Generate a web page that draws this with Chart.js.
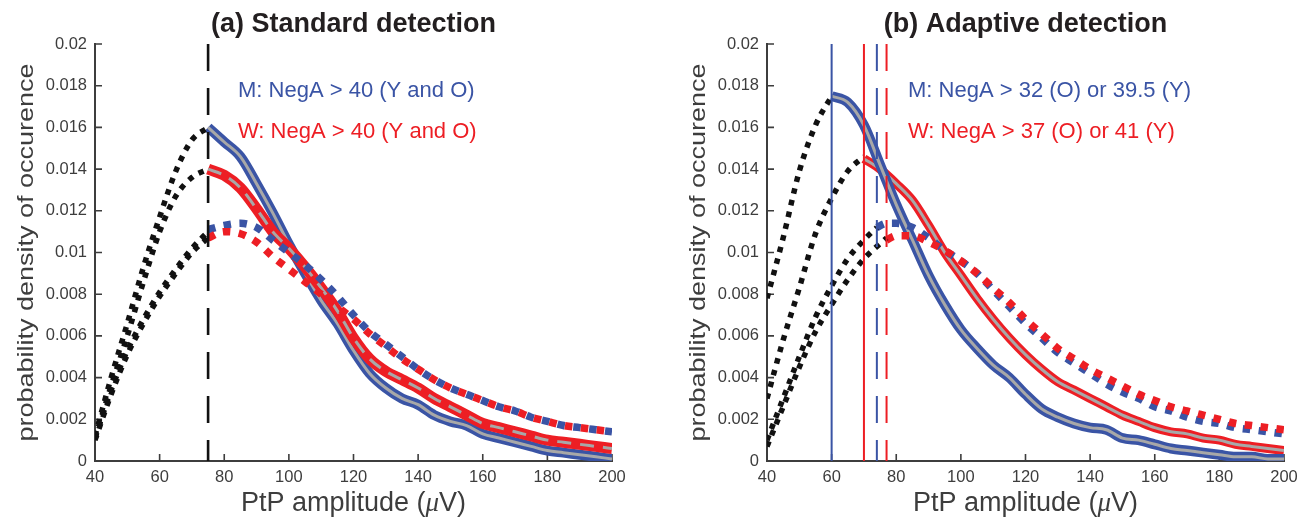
<!DOCTYPE html>
<html>
<head>
<meta charset="utf-8">
<script src="https://cdn.jsdelivr.net/npm/chart.js@4.4.1/dist/chart.umd.min.js"></script>
<style>
  html, body { margin: 0; padding: 0; background: #fff; }
  #wrap { display: flex; width: 1306px; height: 518px; }
  canvas { display: block; }
</style>
</head>
<body>
<div id="wrap">
  <canvas id="chartA" width="653" height="518"></canvas>
  <canvas id="chartB" width="653" height="518"></canvas>
</div>
<script>
// ---- panel (a) standard detection, threshold at 75 uV ----
const aLeadX = [40, 45, 50, 55, 60, 65, 70, 75];
const aMSolidLead = [0.0012, 0.0040, 0.0066, 0.0093, 0.0117, 0.0139, 0.0154, 0.0160];
const aWSolidLead = [0.0011, 0.0036, 0.0060, 0.0086, 0.0110, 0.0127, 0.0136, 0.0140];
const aMDotLead = [0.0011, 0.0034, 0.0053, 0.0068, 0.0081, 0.0092, 0.0102, 0.0110];
const aWDotLead = [0.0010, 0.0032, 0.0051, 0.0066, 0.0079, 0.0090, 0.0100, 0.0107];

const aTailX = [75, 80, 85, 90, 95, 100, 105, 110, 115, 120, 125, 130, 135, 140, 145, 150, 155, 160, 165, 170, 175, 180, 185, 190, 195, 200];
const aMSolid = [0.0160, 0.0153, 0.0146, 0.0133, 0.0119, 0.0104, 0.0090, 0.0077, 0.0066, 0.0053, 0.0042, 0.0035, 0.0030, 0.0027, 0.0022, 0.0019, 0.0017, 0.0013, 0.0011, 0.0009, 0.0007, 0.0005, 0.0004, 0.0003, 0.0002, 0.0001];
const aWSolid = [0.0140, 0.0137, 0.0131, 0.0121, 0.0110, 0.0102, 0.0093, 0.0083, 0.0072, 0.0059, 0.0049, 0.0043, 0.0039, 0.0035, 0.0030, 0.0026, 0.0022, 0.0018, 0.0016, 0.0014, 0.0012, 0.0010, 0.0009, 0.0008, 0.0007, 0.0006];
const aMDot = [0.0111, 0.0113, 0.0114, 0.0112, 0.0106, 0.0100, 0.0094, 0.0087, 0.0079, 0.0070, 0.0062, 0.0056, 0.0050, 0.0044, 0.0039, 0.0035, 0.0032, 0.0029, 0.0026, 0.0024, 0.0021, 0.0019, 0.0017, 0.0016, 0.0015, 0.0014];
const aWDot = [0.0107, 0.0110, 0.0109, 0.0105, 0.0098, 0.0092, 0.0086, 0.0080, 0.0074, 0.0068, 0.0061, 0.0055, 0.0049, 0.0044, 0.0039, 0.0035, 0.0032, 0.0029, 0.0026, 0.0024, 0.0021, 0.0019, 0.0017, 0.0016, 0.0015, 0.0014];
const aThreshold = 75;

// ---- panel (b) adaptive detection ----
const bMSolidLeadX = [40, 45, 50, 55, 60];
const bMSolidLead = [0.0078, 0.0107, 0.0139, 0.0161, 0.0175];
const bWSolidLeadX = [40, 45, 50, 55, 60, 65, 70];
const bWSolidLead = [0.0030, 0.0058, 0.0083, 0.0109, 0.0126, 0.0139, 0.0146];
const bMDotLeadX = [40, 45, 50, 55, 60, 65, 70, 74];
const bMDotLead = [0.0010, 0.0030, 0.0050, 0.0069, 0.0084, 0.0097, 0.0106, 0.0112];
const bWDotLeadX = [40, 45, 50, 55, 60, 65, 70, 77];
const bWDotLead = [0.0007, 0.0026, 0.0045, 0.0062, 0.0075, 0.0087, 0.0097, 0.0107];

const bMSolidX = [60, 65, 70, 75, 80, 85, 90, 95, 100, 105, 110, 115, 120, 125, 130, 135, 140, 145, 150, 155, 160, 165, 170, 175, 180, 185, 190, 195, 200];
const bMSolid = [0.0175, 0.0172, 0.0161, 0.0142, 0.0123, 0.0106, 0.0089, 0.0075, 0.0063, 0.0054, 0.0046, 0.0040, 0.0032, 0.0025, 0.0021, 0.0018, 0.0016, 0.0015, 0.0011, 0.0010, 0.0008, 0.0006, 0.0005, 0.0004, 0.0003, 0.0002, 0.0002, 0.0001, 0.0001];
const bWSolidX = [70, 75, 80, 85, 90, 95, 100, 105, 110, 115, 120, 125, 130, 135, 140, 145, 150, 155, 160, 165, 170, 175, 180, 185, 190, 195, 200];
const bWSolid = [0.0145, 0.0140, 0.0133, 0.0125, 0.0113, 0.0100, 0.0089, 0.0078, 0.0068, 0.0059, 0.0051, 0.0044, 0.0038, 0.0034, 0.0030, 0.0026, 0.0022, 0.0019, 0.0016, 0.0014, 0.0013, 0.0011, 0.0010, 0.0008, 0.0007, 0.0006, 0.0005];
const bMDotX = [74, 77, 80, 85, 90, 95, 100, 105, 110, 115, 120, 125, 130, 135, 140, 145, 150, 155, 160, 165, 170, 175, 180, 185, 190, 195, 200];
const bMDot = [0.0112, 0.0114, 0.0114, 0.0112, 0.0107, 0.0101, 0.0096, 0.0090, 0.0082, 0.0074, 0.0066, 0.0059, 0.0052, 0.0047, 0.0042, 0.0037, 0.0033, 0.0030, 0.0026, 0.0024, 0.0021, 0.0019, 0.0018, 0.0016, 0.0015, 0.0014, 0.0013];
const bWDotX = [77, 80, 85, 90, 95, 100, 105, 110, 115, 120, 125, 130, 135, 140, 145, 150, 155, 160, 165, 170, 175, 180, 185, 190, 195, 200];
const bWDot = [0.0106, 0.0108, 0.0108, 0.0105, 0.0101, 0.0096, 0.0090, 0.0083, 0.0076, 0.0068, 0.0061, 0.0054, 0.0049, 0.0044, 0.0040, 0.0036, 0.0032, 0.0029, 0.0026, 0.0024, 0.0022, 0.0020, 0.0018, 0.0017, 0.0016, 0.0015];
const bMSolidLine = 60, bWSolidLine = 70, bMDashLine = 74, bWDashLine = 77;

const blue = "rgb(58,84,165)";
const red = "rgb(237,30,36)";
const gray = "rgb(168,168,168)";
const axisColor = "#3d3d3d";
const fontFam = '"Liberation Sans", Arial, Helvetica, sans-serif';

function pts(xs, ys) {
  return xs.map((x, i) => ({ x: x, y: ys[i] }));
}

function vline(x, color, width, dash) {
  return {
    data: [{ x: x, y: 0.02 }, { x: x, y: 0 }],
    borderColor: color, borderWidth: width, borderDash: dash || [],
    tension: 0,
  };
}

function curve(xs, ys, color, width, dash) {
  return {
    data: pts(xs, ys),
    borderColor: color, borderWidth: width, borderDash: dash || [],
    cubicInterpolationMode: "monotone", borderCapStyle: "butt",
  };
}

const blackDots = [5.5, 6.5];
const colorDots = [7.5, 8.5];

// first dataset is painted on top
const datasetsA = [
  vline(aThreshold, "#111", 2.6, [27, 17]),
  curve(aLeadX, aMSolidLead, "#111", 5.5, blackDots),
  curve(aLeadX, aWSolidLead, "#111", 5.5, blackDots),
  curve(aLeadX, aMDotLead, "#111", 5.5, blackDots),
  curve(aLeadX, aWDotLead, "#111", 5.5, blackDots),
  curve(aTailX, aWDot, red, 7.5, colorDots),
  curve(aTailX, aMDot, blue, 7.5, colorDots),
  curve(aTailX, aWSolid, gray, 3, [14, 9]),
  curve(aTailX, aWSolid, red, 11),
  curve(aTailX, aMSolid, gray, 3),
  curve(aTailX, aMSolid, blue, 10),
];

const datasetsB = [
  vline(bMSolidLine, blue, 2),
  vline(bWSolidLine, red, 2),
  vline(bMDashLine, blue, 2, [27, 17]),
  vline(bWDashLine, red, 2, [27, 17]),
  curve(bMSolidLeadX, bMSolidLead, "#111", 5.5, blackDots),
  curve(bWSolidLeadX, bWSolidLead, "#111", 5.5, blackDots),
  curve(bMDotLeadX, bMDotLead, "#111", 5.5, blackDots),
  curve(bWDotLeadX, bWDotLead, "#111", 5.5, blackDots),
  curve(bWDotX, bWDot, red, 7.5, colorDots),
  curve(bMDotX, bMDot, blue, 7.5, colorDots),
  curve(bMSolidX, bMSolid, gray, 3),
  curve(bMSolidX, bMSolid, blue, 10),
  curve(bWSolidX, bWSolid, gray, 3),
  curve(bWSolidX, bWSolid, red, 9),
];

// inward ticks, titles, notes and axis labels
const panelText = {
  id: "panelText",
  beforeDatasetsDraw(chart) {
    const ctx = chart.ctx;
    const xs = chart.scales.x, ys = chart.scales.y;
    const area = chart.chartArea;
    ctx.save();
    ctx.strokeStyle = axisColor;
    ctx.lineWidth = 1.6;
    ctx.beginPath();
    xs.ticks.forEach(t => {
      const px = xs.getPixelForValue(t.value);
      ctx.moveTo(px, area.bottom);
      ctx.lineTo(px, area.bottom - 7);
    });
    ys.ticks.forEach(t => {
      const py = ys.getPixelForValue(t.value);
      ctx.moveTo(area.left, py);
      ctx.lineTo(area.left + 7, py);
    });
    ctx.stroke();
    ctx.restore();
  },
  afterDraw(chart, args, opts) {
    const ctx = chart.ctx;
    const area = chart.chartArea;
    const cx = (area.left + area.right) / 2;
    ctx.save();

    ctx.fillStyle = "#231f20";
    ctx.font = "bold 27px " + fontFam;
    ctx.textAlign = "center";
    ctx.textBaseline = "alphabetic";
    ctx.fillText(opts.title, cx, 32);

    ctx.textAlign = "left";
    ctx.font = "22px " + fontFam;
    opts.notes.forEach((n, i) => {
      ctx.fillStyle = n.color;
      ctx.fillText(n.text, opts.noteX, 97 + i * 41);
    });

    // x axis label with italic mu
    ctx.fillStyle = "#3d3d3d";
    const parts = [["PtP amplitude (", "27px " + fontFam], ["\u03bc", 'italic 27px "Liberation Serif", serif'], ["V)", "27px " + fontFam]];
    let total = 0;
    parts.forEach(p => { ctx.font = p[1]; total += ctx.measureText(p[0]).width; });
    let x0 = cx - total / 2;
    parts.forEach(p => {
      ctx.font = p[1];
      ctx.fillText(p[0], x0, 511);
      x0 += ctx.measureText(p[0]).width;
    });

    // y axis label
    ctx.translate(area.left - 68, (area.top + area.bottom) / 2);
    ctx.rotate(-Math.PI / 2);
    ctx.scale(1, 0.85);
    ctx.textAlign = "center";
    ctx.textBaseline = "middle";
    ctx.font = "27px " + fontFam;
    ctx.fillText("probability density of occurence", 0, 0);
    ctx.restore();
  },
};

function makePanel(id, datasets, axisLeft, padRight, text) {
  const ctx = document.getElementById(id).getContext("2d");
  return new Chart(ctx, {
    type: "line",
    data: { datasets: datasets },
    options: {
      responsive: false,
      animation: false,
      devicePixelRatio: 1,
      layout: { padding: { left: 0, top: 44, right: padRight, bottom: 0 } },
      elements: { point: { radius: 0 }, line: { fill: false } },
      plugins: {
        legend: { display: false },
        tooltip: { enabled: false },
        panelText: text,
      },
      scales: {
        x: {
          type: "linear", min: 40, max: 200,
          grid: { display: false, drawTicks: false },
          border: { display: true, color: axisColor, width: 2 },
          ticks: { stepSize: 20, padding: 7, color: "#3d3d3d", maxRotation: 0, font: { family: fontFam, size: 16.5 } },
          afterFit: s => { s.height = 57; },
        },
        y: {
          min: 0, max: 0.02,
          grid: { display: false, drawTicks: false },
          border: { display: true, color: axisColor, width: 2 },
          ticks: {
            stepSize: 0.002, padding: 8, color: "#3d3d3d", font: { family: fontFam, size: 16.5 },
            callback: v => String(Number(v.toFixed(4))),
          },
          afterFit: s => { s.width = axisLeft; },
        },
      },
    },
    plugins: [panelText],
  });
}

makePanel("chartA", datasetsA, 95, 41, {
  title: "(a) Standard detection",
  noteX: 238,
  notes: [
    { text: "M: NegA > 40 (Y and O)", color: blue },
    { text: "W: NegA > 40 (Y and O)", color: red },
  ],
});

makePanel("chartB", datasetsB, 114, 22, {
  title: "(b) Adaptive detection",
  noteX: 255,
  notes: [
    { text: "M: NegA > 32 (O) or 39.5 (Y)", color: blue },
    { text: "W: NegA > 37 (O) or 41 (Y)", color: red },
  ],
});
</script>
</body>
</html>
